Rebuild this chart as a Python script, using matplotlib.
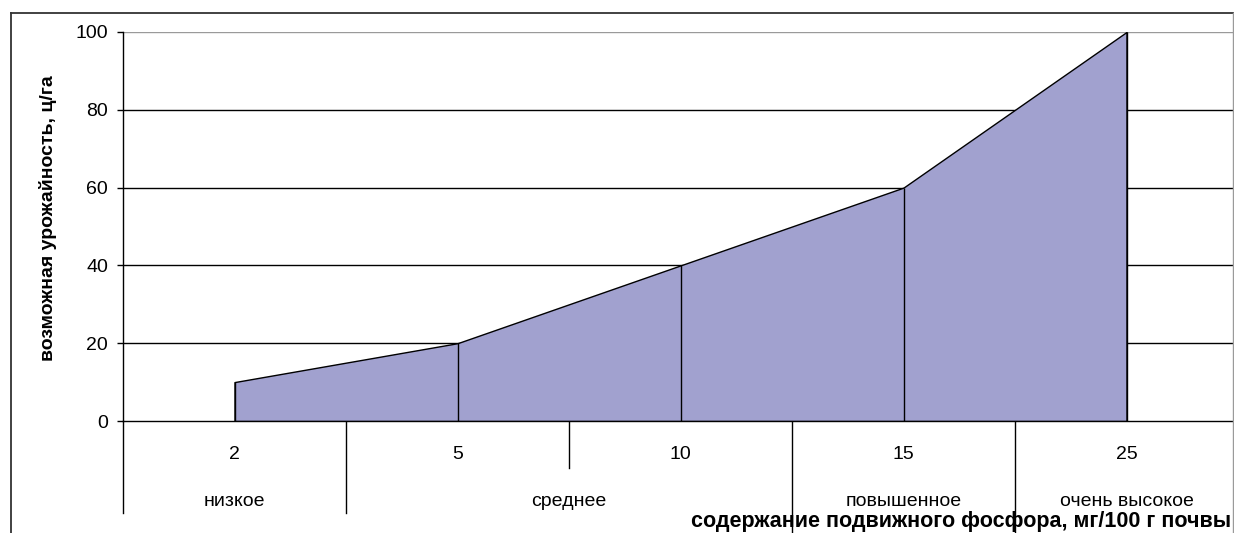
import matplotlib
matplotlib.use("Agg")
import matplotlib.pyplot as plt
from matplotlib.lines import Line2D

plt.rcParams['font.family'] = ['Liberation Sans', 'DejaVu Sans']

# содержание фосфора (категории) и возможная урожайность
phosphorus = ['2', '5', '10', '15', '25']
yield_cwt = [10, 20, 40, 60, 100]
# градации обеспеченности и число категорий в каждой
groups = ['низкое', 'среднее', 'повышенное', 'очень высокое']
group_sizes = [1, 2, 1, 1]

W, H = 1234, 533
fig = plt.figure(figsize=(W / 100, H / 100), dpi=100)
ax = fig.add_axes([123 / W, (H - 421) / H, (1238 - 123) / W, (421 - 32) / H])

x = [i + 0.5 for i in range(len(phosphorus))]
ax.fill_between(x, 0, yield_cwt, facecolor='#A1A1CF', edgecolor='black',
                linewidth=1.0, zorder=3)
ax.vlines(x, 0, yield_cwt, colors='black', linewidth=1.0, zorder=4)

ax.set_xlim(0, len(phosphorus))
ax.set_ylim(0, 100)
ax.set_yticks(range(0, 101, 20))
for yv in range(20, 100, 20):
    ax.axhline(yv, color='black', linewidth=1.0, zorder=1)
ax.axhline(100, color='#9a9a9a', linewidth=1.0, zorder=1)

for s in ['top', 'right']:
    ax.spines[s].set_visible(False)
ax.spines['left'].set_linewidth(1.0)
ax.spines['bottom'].set_linewidth(1.0)
ax.spines['bottom'].set_zorder(5)
ax.tick_params(axis='y', direction='out', length=4.3, width=1.0,
               pad=6.5, labelsize=14)
ax.set_xticks(x)
ax.set_xticklabels(phosphorus, fontsize=14)
ax.tick_params(axis='x', length=0, pad=18)

# разделители категорий под осью
trans = ax.get_xaxis_transform()
bounds = [0]
for n in group_sizes:
    bounds.append(bounds[-1] + n)
line_ends = {0: -0.236, 1: -0.236, 3: -0.3, 4: -0.3}
for b in range(len(phosphorus)):
    end = line_ends.get(b, -0.12)
    ax.plot([b, b], [0, end], color='black', linewidth=1.0,
            transform=trans, clip_on=False)

# подписи градаций
for g, lo, hi in zip(groups, bounds[:-1], bounds[1:]):
    ax.text((lo + hi) / 2, -(501 - 421) / 389, g, transform=trans,
            ha='center', va='center', fontsize=14)

ax.set_ylabel('возможная урожайность, ц/га', fontsize=14, fontweight='bold')
ax.yaxis.set_label_coords(-66 / 1115, (421 - 218) / 389)

fig.text(1231 / W, (H - 521) / H,
         'содержание подвижного фосфора, мг/100 г почвы',
         ha='right', va='center', fontsize=15.5, fontweight='bold')

# рамка диаграммы
fig.add_artist(Line2D([11 / W, 11 / W], [0, (H - 13) / H],
                      transform=fig.transFigure, color='#333333', linewidth=1.3))
fig.add_artist(Line2D([11 / W, 1233 / W], [(H - 13) / H, (H - 13) / H],
                      transform=fig.transFigure, color='#333333', linewidth=1.3))
fig.add_artist(Line2D([1233 / W, 1233 / W], [0, (H - 13) / H],
                      transform=fig.transFigure, color='#9a9a9a', linewidth=1.0))

fig.savefig('out.png', dpi=100)
